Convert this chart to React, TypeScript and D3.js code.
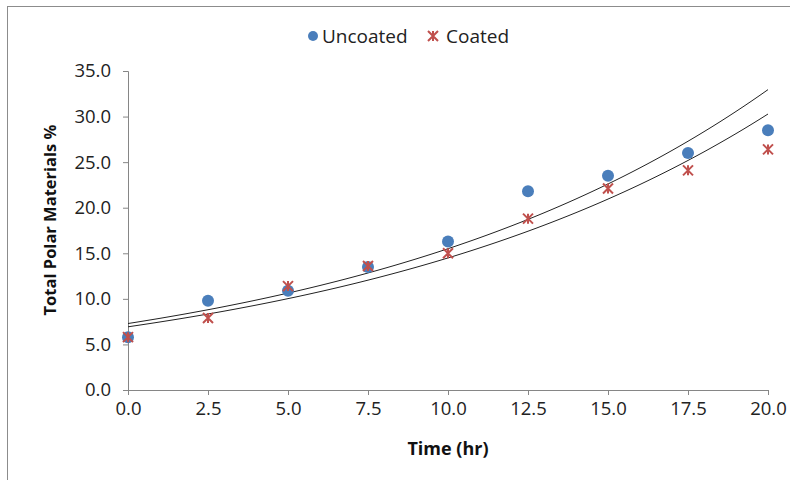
import * as d3 from "d3";
import { useRef, useEffect } from "react";

const timeHr = [0, 2.5, 5, 7.5, 10, 12.5, 15, 17.5, 20];
const uncoated = [5.8, 9.8, 10.9, 13.5, 16.3, 21.8, 23.5, 26.0, 28.5];
const coated = [5.8, 7.9, 11.4, 13.6, 15.0, 18.8, 22.1, 24.1, 26.4];
const xTicks = [0, 2.5, 5, 7.5, 10, 12.5, 15, 17.5, 20];
const yTicks = [0, 5, 10, 15, 20, 25, 30, 35];

// Excel-style exponential trendline: least squares on ln(y)
const expFit = (xs: number[], ys: number[]) => {
  const lx = d3.mean(xs) as number;
  const ly = d3.mean(ys, (v) => Math.log(v)) as number;
  const sxy = d3.sum(xs, (x, i) => (x - lx) * (Math.log(ys[i]) - ly));
  const sxx = d3.sum(xs, (x) => (x - lx) ** 2);
  const b = sxy / sxx;
  const a = Math.exp(ly - b * lx);
  return (x: number) => a * Math.exp(b * x);
};

const App = () => {
  const ref = useRef<SVGSVGElement | null>(null);

  useEffect(() => {
    const svg = d3.select(ref.current);
    svg.selectAll("*").remove();

    const font = "'Open Sans', sans-serif";
    const x = d3.scaleLinear().domain([0, 20]).range([128, 768]);
    const y = d3.scaleLinear().domain([0, 35]).range([390, 71]);

    // outer frame
    svg.append("rect")
      .attr("x", 7.5).attr("y", 6.5)
      .attr("width", 900).attr("height", 600)
      .attr("fill", "white")
      .attr("stroke", "#8c8c8c");

    // axes
    const yAxis = svg.append("g")
      .attr("transform", `translate(${x(0)},0)`)
      .call(d3.axisLeft(y).tickValues(yTicks).tickFormat(d3.format(".1f")).tickSize(5).tickPadding(12));
    const xAxis = svg.append("g")
      .attr("transform", `translate(0,${y(0)})`)
      .call(d3.axisBottom(x).tickValues(xTicks).tickFormat(d3.format(".1f")).tickSize(5).tickPadding(7));

    [yAxis, xAxis].forEach((g) => {
      g.select(".domain").attr("stroke", "#868686");
      g.selectAll(".tick line").attr("stroke", "#868686");
      g.selectAll(".tick text")
        .attr("fill", "#222")
        .style("font-family", font)
        .style("font-size", "18.5px");
    });

    // trendlines
    const grid = d3.range(0, 20.001, 0.25);
    [uncoated, coated].forEach((vals) => {
      const f = expFit(timeHr, vals);
      svg.append("path")
        .datum(grid)
        .attr("fill", "none")
        .attr("stroke", "#222")
        .attr("stroke-width", 1)
        .attr("d", d3.line<number>().x((t) => x(t)).y((t) => y(f(t))));
    });

    const star = (g: d3.Selection<SVGGElement, unknown, null, undefined>, s: number) => {
      g.append("path")
        .attr("d", `M${-s},${-s}L${s},${s}M${-s},${s}L${s},${-s}M0,${-s}L0,${s}`)
        .attr("stroke", "#c0504d")
        .attr("stroke-width", 2)
        .attr("fill", "none");
    };

    // uncoated markers
    svg.append("g")
      .selectAll("circle")
      .data(timeHr)
      .join("circle")
      .attr("cx", (d) => x(d))
      .attr("cy", (d, i) => y(uncoated[i]))
      .attr("r", 6)
      .attr("fill", "#4a7ebb");

    // coated markers
    timeHr.forEach((t, i) => {
      const g = svg.append("g").attr("transform", `translate(${x(t)},${y(coated[i])})`);
      star(g, 5);
    });

    // legend
    const leg = svg.append("g");
    leg.append("circle").attr("cx", 313).attr("cy", 36).attr("r", 5).attr("fill", "#4a7ebb");
    leg.append("text").attr("x", 322).attr("y", 43)
      .style("font-family", font).style("font-size", "19px").attr("fill", "#222")
      .text("Uncoated");
    star(leg.append("g").attr("transform", "translate(433,36)"), 5);
    leg.append("text").attr("x", 446).attr("y", 43)
      .style("font-family", font).style("font-size", "19px").attr("fill", "#222")
      .text("Coated");

    // axis titles
    svg.append("text")
      .attr("x", 448).attr("y", 455)
      .attr("text-anchor", "middle")
      .style("font-family", font).style("font-size", "18px").style("font-weight", "bold")
      .attr("fill", "#111")
      .text("Time (hr)");
    svg.append("text")
      .attr("transform", "translate(56,220) rotate(-90)")
      .attr("text-anchor", "middle")
      .style("font-family", font).style("font-size", "16.5px").style("font-weight", "bold")
      .attr("fill", "#111")
      .text("Total Polar Materials %");
  }, []);

  return (
    <svg
      ref={ref}
      width={790}
      height={480}
      style={{ position: "absolute", left: 0, top: 0, background: "white" }}
    />
  );
};

export default App;
